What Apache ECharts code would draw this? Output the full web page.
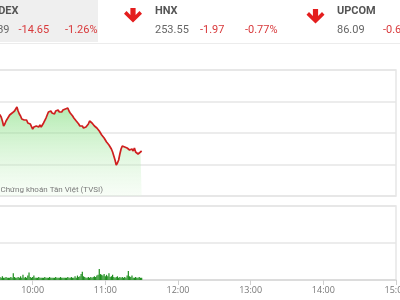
<!DOCTYPE html>
<html>
<head>
<meta charset="utf-8">
<script src="https://cdn.jsdelivr.net/npm/echarts@6/dist/echarts.min.js"></script>
<style>
html,body{margin:0;padding:0;background:#fff;}
#c{width:400px;height:300px;}
</style>
</head>
<body>
<div id="c"></div>
<script>
// ---- data ----
const startMinute = 555; // 09:15, one point per minute
const prices = [
1153.65,1153.33,1153.49,1153.02,1153.17,1152.86,1153.33,1153.02,1152.70,1153.17,
1152.86,1152.54,1153.02,1153.33,1153.17,1153.49,1153.17,1153.02,1152.86,1152.54,
1151.90,1151.11,1151.43,1151.90,1152.22,1152.38,1152.86,1152.70,1153.17,1153.17,
1153.49,1153.65,1154.13,1153.49,1153.02,1152.70,1152.22,1152.38,1152.06,1151.90,
1152.06,1151.59,1151.75,1151.43,1151.27,1150.63,1150.95,1150.95,1151.11,1151.11,
1150.95,1151.27,1150.95,1151.11,1151.59,1151.90,1152.38,1152.86,1153.33,1153.17,
1153.49,1153.17,1153.33,1153.02,1153.49,1153.33,1153.65,1153.33,1153.49,1153.33,
1153.65,1153.49,1153.81,1153.65,1153.97,1153.49,1153.17,1152.86,1152.70,1152.38,
1152.22,1151.90,1151.59,1151.43,1151.11,1150.95,1151.11,1150.79,1150.95,1150.95,
1151.11,1151.43,1151.90,1151.75,1151.59,1151.43,1151.11,1151.27,1150.79,1150.63,
1150.32,1150.00,1149.68,1149.37,1149.21,1148.89,1148.57,1148.41,1148.10,1147.78,
1147.46,1146.98,1146.35,1145.71,1144.92,1145.24,1145.71,1146.67,1147.46,1147.94,
1147.78,1147.78,1147.62,1147.62,1147.78,1147.30,1147.46,1147.46,1147.14,1147.62,
1146.98,1146.83,1146.67,1146.98,1146.98,1147.14
];
const volumes = [
3,4,3,5,3,4,3,3,6,3,4,3,3,5,3,4,3,3,
4,3,5,3,3,4,3,3,
3,4,3,9,4,3,3,4,3,5,3,7,3,4,3,6,10,4,3,4,6,3,3,3,4,3,3,3,3,4,3,3,3,4,3,3,3,3,4,3,3,3,4,3,3,3,3,3,4,3,3,4,3,3,5,3,6,4,5,8,11,5,4,3,3,4,3,4,3,4,5,4,6,7,15,8,7,6,8,5,7,5,9,4,5,7,4,3,4,5,3,4,3,4,3,4,3,6,12,5,4,6,3,3,4,3,3,4,3,3
];
const indices = [
  {name: 'VNINDEX', value: '1,148.39', change: '-14.65', pct: '-1.26%'},
  {name: 'HNX', value: '253.55', change: '-1.97', pct: '-0.77%'},
  {name: 'UPCOM', value: '86.09', change: '-0.54', pct: '-0.62%'}
];
const watermark = '© 2022 Chứng khoán Tân Việt (TVSI)';

// ---- build ----
const priceData = prices.map((p, i) => [startMinute + i, p]);
const volData = volumes.map((v, i) => [startMinute + i, v]);
function fmt(m){ const h = Math.floor(m/60), mm = m%60; return (h<10?'0':'')+h+':'+(mm<10?'0':'')+mm; }

const chart = echarts.init(document.getElementById('c'), null, {renderer:'canvas'});
const gridLeft = -40, gridWidth = 436;
const gridColor = '#e6e6e6';
const red = '#d8393b';
const txt = (text, x, y, opt) => ({
  type: 'text', z: 10,
  style: Object.assign({text, x, y, font: '11px Roboto', fill: '#666',
    textAlign: 'left', align: 'left', textVerticalAlign: 'middle', verticalAlign: 'middle'}, opt||{})
});
const arrow = (cx, ty) => ({
  type: 'polygon', z: 10,
  shape: {points: [[cx-2.6,ty],[cx+2.6,ty],[cx+2.6,ty+7],[cx+6.5,ty+3],[cx+9,ty+5.8],[cx,ty+14.5],[cx-9,ty+5.8],[cx-6.5,ty+3],[cx-2.6,ty+7]]},
  style: {fill: '#e41e1e'}
});

const option = {
  animation: false,
  grid: [
    {left: gridLeft, width: gridWidth, top: 70, height: 126, show: true, borderColor: gridColor, borderWidth: 1.5, containLabel: false, outerBoundsMode: 'none'},
    {left: gridLeft, width: gridWidth, top: 206, height: 74, show: true, borderColor: gridColor, borderWidth: 1.5, containLabel: false, outerBoundsMode: 'none'}
  ],
  xAxis: [
    {type: 'value', gridIndex: 0, min: 540, max: 900, interval: 60, show: false},
    {type: 'value', gridIndex: 1, min: 540, max: 900, interval: 60,
     axisLine: {show: true, lineStyle: {color: '#d9d9d9', width: 1.5}},
     axisTick: {show: true, length: 5, lineStyle: {color: '#d0d0d0'}},
     splitLine: {show: false},
     axisLabel: {color: '#777', fontSize: 9, fontFamily: 'Open Sans', margin: 6, formatter: v => fmt(v), showMaxLabel: true, showMinLabel: true, hideOverlap: false}}
  ],
  yAxis: [
    {type: 'value', gridIndex: 0, min: 1140, max: 1160, interval: 5,
     axisLabel: {show: false}, axisLine: {show: false}, axisTick: {show: false},
     splitLine: {lineStyle: {color: gridColor, width: 1.5}}},
    {type: 'value', gridIndex: 1, min: 0, max: 100, interval: 50,
     axisLabel: {show: false}, axisLine: {show: false}, axisTick: {show: false},
     splitLine: {lineStyle: {color: gridColor, width: 1.5}}}
  ],
  series: [
    {type: 'line', xAxisIndex: 0, yAxisIndex: 0, data: priceData, showSymbol: false,
     lineStyle: {color: '#cf1f1f', width: 1.7},
     areaStyle: {color: new echarts.graphic.LinearGradient(0,0,0,1,[
       {offset: 0, color: 'rgba(105,215,100,0.72)'},
       {offset: 1, color: 'rgba(225,248,222,0.35)'}])}},
    {type: 'bar', xAxisIndex: 1, yAxisIndex: 1, data: volData, barWidth: 1.2,
     itemStyle: {color: '#1f8f1f'}}
  ],
  graphic: {elements: [
    {type: 'rect', z: 1, shape: {x: 0, y: 0, width: 98, height: 42}, style: {fill: '#efefef'}},
    {type: 'line', z: 1, shape: {x1: 0, y1: 43.5, x2: 400, y2: 43.5}, style: {stroke: '#ececec', lineWidth: 1}},
    txt(indices[0].name, 18.5, 11.5, {font: 'bold 11px Roboto', fill: '#555', textAlign: 'right', align: 'right'}),
    txt(indices[0].value, 9.5, 30, {textAlign: 'right', align: 'right'}),
    txt(indices[0].change, 18.5, 30, {fill: red}),
    txt(indices[0].pct, 65, 30, {fill: red}),
    arrow(133, 8),
    txt(indices[1].name, 155, 11.5, {font: 'bold 11px Roboto', fill: '#555'}),
    txt(indices[1].value, 155, 30),
    txt(indices[1].change, 200, 30, {fill: red}),
    txt(indices[1].pct, 245, 30, {fill: red}),
    arrow(315.5, 9),
    txt(indices[2].name, 337, 11.5, {font: 'bold 11px Roboto', fill: '#555'}),
    txt(indices[2].value, 337, 30),
    txt(indices[2].pct, 383, 30, {fill: red}),
    txt(watermark, 103, 190, {font: '8px Roboto', fill: '#7a7a7a', textAlign: 'right', align: 'right'})
  ]}
};
chart.setOption(option);
</script>
</body>
</html>
